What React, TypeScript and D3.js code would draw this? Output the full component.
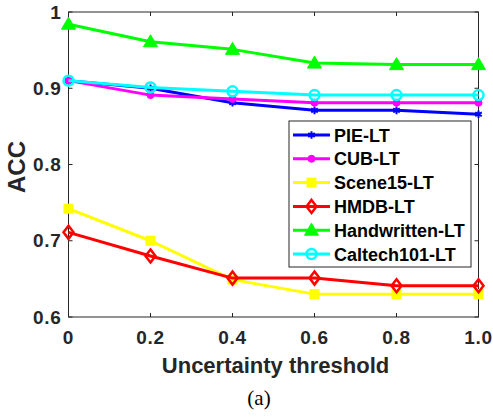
import React from "react";
import * as d3 from "d3";

const thresholds = [0, 0.2, 0.4, 0.6, 0.8, 1.0];
const xTickLabels = ["0", "0.2", "0.4", "0.6", "0.8", "1.0"];
const yTicks = [0.6, 0.7, 0.8, 0.9, 1];
const yTickLabels = ["0.6", "0.7", "0.8", "0.9", "1"];

const pieLT = [0.91, 0.9, 0.881, 0.871, 0.871, 0.866];
const cubLT = [0.91, 0.891, 0.886, 0.881, 0.881, 0.881];
const scene15LT = [0.742, 0.7, 0.649, 0.63, 0.63, 0.63];
const hmdbLT = [0.711, 0.68, 0.651, 0.651, 0.641, 0.641];
const handwrittenLT = [0.984, 0.961, 0.951, 0.933, 0.931, 0.931];
const caltech101LT = [0.91, 0.901, 0.896, 0.891, 0.891, 0.891];

const seriesNames = ["PIE-LT", "CUB-LT", "Scene15-LT", "HMDB-LT", "Handwritten-LT", "Caltech101-LT"];
const seriesValues = [pieLT, cubLT, scene15LT, hmdbLT, handwrittenLT, caltech101LT];
const seriesColors = ["#0000ff", "#ff00ff", "#ffff00", "#ff0000", "#00ff00", "#00ffff"];
const seriesMarkers = ["asterisk", "dot", "square", "diamond", "triangle", "circle"];

const axisColor = "#262626";
const font = "'Liberation Sans', Arial, Helvetica, sans-serif";

function Marker({ kind, x, y, color }: { kind: string; x: number; y: number; color: string }) {
  if (kind === "asterisk") {
    const p = d3.symbol(d3.symbolAsterisk, 40)();
    return <path d={p || ""} transform={`translate(${x},${y})`} fill="none" stroke={color} strokeWidth={2} />;
  }
  if (kind === "dot") return <circle cx={x} cy={y} r={3.5} fill={color} stroke={color} strokeWidth={1} />;
  if (kind === "square") return <rect x={x - 5} y={y - 5} width={10} height={10} fill={color} />;
  if (kind === "diamond") {
    const d = `M${x},${y - 6.5}L${x + 5},${y}L${x},${y + 6.5}L${x - 5},${y}Z`;
    return <path d={d} fill="none" stroke={color} strokeWidth={2.5} />;
  }
  if (kind === "triangle") {
    const d = `M${x},${y - 7}L${x + 7},${y + 5}L${x - 7},${y + 5}Z`;
    return <path d={d} fill={color} stroke={color} strokeWidth={1} />;
  }
  return <circle cx={x} cy={y} r={5} fill="none" stroke={color} strokeWidth={2.5} />;
}

export default function App() {
  const width = 493, height = 418;
  const left = 68.5, right = 478.5, top = 12, bottom = 317;

  const x = d3.scaleLinear().domain([0, 1]).range([left, right]);
  const y = d3.scaleLinear().domain([0.6, 1]).range([bottom, top]);

  const line = d3.line<number>()
    .x((d, i) => x(thresholds[i]))
    .y((d) => y(d));

  const legend = { x: 289, y: 121, w: 182, h: 146 };
  const rowY = (i: number) => 135 + i * 23.8;

  return (
    <svg width={width} height={height} style={{ position: "absolute", left: 0, top: 0, background: "#fff" }}>
      <rect x={0} y={0} width={width} height={height} fill="#fff" />
      {/* axes box */}
      <rect x={left} y={top} width={right - left} height={bottom - top} fill="none" stroke={axisColor} strokeWidth={1} />
      {yTicks.map((t, i) => (
        <g key={"y" + i}>
          <line x1={left} x2={left + 4} y1={y(t)} y2={y(t)} stroke={axisColor} />
          <line x1={right} x2={right - 4} y1={y(t)} y2={y(t)} stroke={axisColor} />
          <text x={left - 7} y={y(t) + 6.5} textAnchor="end" fontFamily={font} fontWeight="bold" fontSize={19} fill={axisColor} letterSpacing={0.7}>
            {yTickLabels[i]}
          </text>
        </g>
      ))}
      {thresholds.map((t, i) => (
        <g key={"x" + i}>
          <line x1={x(t)} x2={x(t)} y1={bottom} y2={bottom - 4} stroke={axisColor} />
          <line x1={x(t)} x2={x(t)} y1={top} y2={top + 4} stroke={axisColor} />
          <text x={x(t)} y={344} textAnchor="middle" fontFamily={font} fontWeight="bold" fontSize={19} fill={axisColor} letterSpacing={0.7}>
            {xTickLabels[i]}
          </text>
        </g>
      ))}
      <text x={(left + right) / 2 + 2} y={373} textAnchor="middle" fontFamily={font} fontWeight="bold" fontSize={22} fill={axisColor}>
        Uncertainty threshold
      </text>
      <text transform={`translate(25,167) rotate(-90)`} textAnchor="middle" fontFamily={font} fontWeight="bold" fontSize={24} fill={axisColor}>
        ACC
      </text>
      <text x={259} y={405} textAnchor="middle" fontFamily="'Liberation Serif', 'Times New Roman', serif" fontSize={21} fill="#000">
        (a)
      </text>

      {seriesValues.map((vals, s) => (
        <g key={"s" + s}>
          <path d={line(vals) || ""} fill="none" stroke={seriesColors[s]} strokeWidth={3} strokeLinejoin="round" />
          {vals.map((v, i) => (
            <Marker key={i} kind={seriesMarkers[s]} x={x(thresholds[i])} y={y(v)} color={seriesColors[s]} />
          ))}
        </g>
      ))}

      {/* legend */}
      <rect x={legend.x} y={legend.y} width={legend.w} height={legend.h} fill="#fff" stroke={axisColor} strokeWidth={1} />
      {seriesNames.map((name, i) => (
        <g key={"l" + i}>
          <line x1={293} x2={330} y1={rowY(i)} y2={rowY(i)} stroke={seriesColors[i]} strokeWidth={3} />
          <Marker kind={seriesMarkers[i]} x={311.5} y={rowY(i)} color={seriesColors[i]} />
          <text x={334} y={rowY(i) + 6.5} fontFamily={font} fontWeight="bold" fontSize={18} fill="#000">
            {name}
          </text>
        </g>
      ))}
    </svg>
  );
}
